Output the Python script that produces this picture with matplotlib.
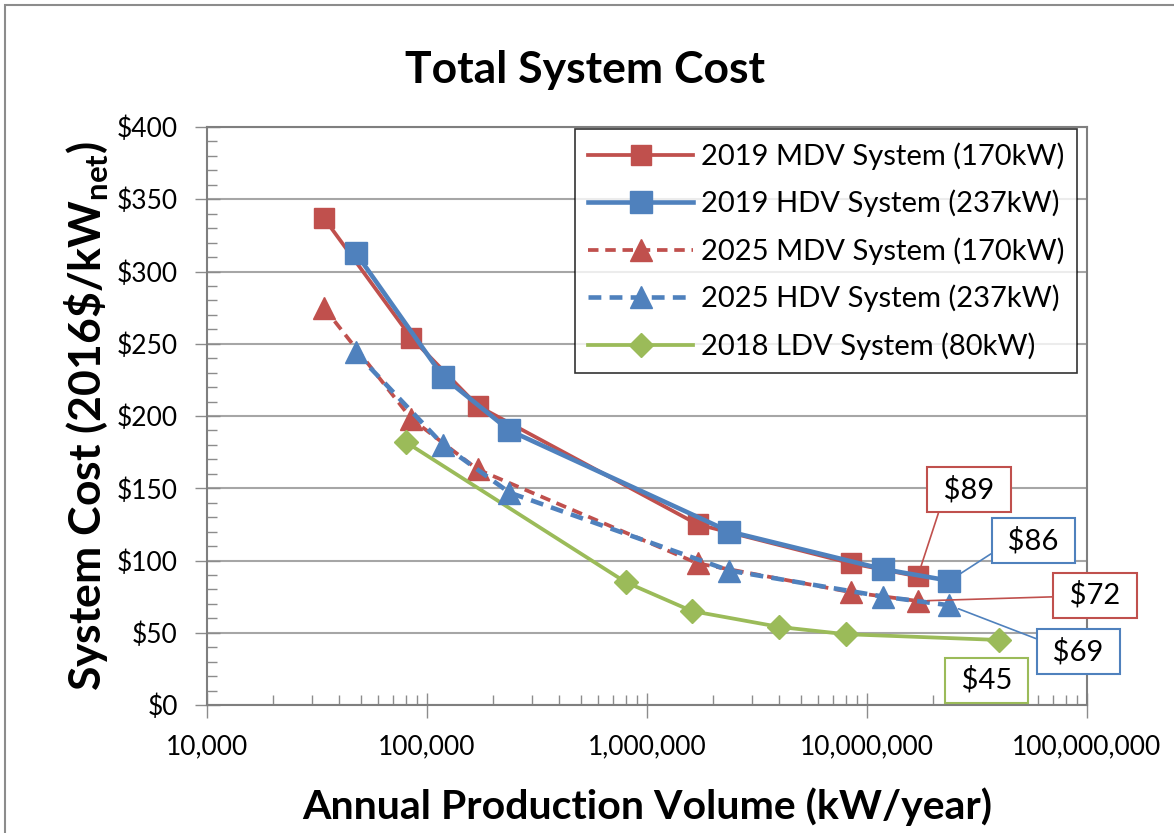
import numpy as np
import matplotlib
matplotlib.use("Agg")
import matplotlib.pyplot as plt
from matplotlib.ticker import LogLocator, MultipleLocator, FuncFormatter, NullFormatter
from matplotlib.patches import Rectangle

plt.rcParams['font.family'] = ['Lato', 'DejaVu Sans']
plt.rcParams['mathtext.fontset'] = 'custom'
plt.rcParams['mathtext.rm'] = 'Lato'
plt.rcParams['mathtext.bf'] = 'Lato:bold'

# data (kW/year, $/kW)
mdv19_x = [34000, 85000, 170000, 1700000, 8500000, 17000000]
mdv19_y = [337, 254, 207, 125, 98, 89]
hdv19_x = [47400, 118500, 237000, 2370000, 11850000, 23700000]
hdv19_y = [313, 227, 190, 120, 94, 86]
mdv25_x = [34000, 85000, 170000, 1700000, 8500000, 17000000]
mdv25_y = [275, 198, 163, 98, 78, 72]
hdv25_x = [47400, 118500, 237000, 2370000, 11850000, 23700000]
hdv25_y = [244, 180, 147, 93, 75, 69]
ldv18_x = [80000, 800000, 1600000, 4000000, 8000000, 40000000]
ldv18_y = [182, 85, 65, 54, 49, 45]

x_ticks = [1e4, 1e5, 1e6, 1e7, 1e8]
x_labels = ['10,000', '100,000', '1,000,000', '10,000,000', '100,000,000']

red = '#C0504D'
blue = '#4F81BD'
green = '#9BBB59'

fig = plt.figure(figsize=(11.74, 8.33), dpi=100)
ax = fig.add_axes([207/1174, 1-705/833, 880/1174, 578/833])

# outer chart frame
fig.patches.append(Rectangle((5/1174, -0.1), 1.2, 1-5/833+0.1, transform=fig.transFigure,
                             fill=False, edgecolor='#8c8c8c', linewidth=1.5))

lw = 2.7
ax.plot(mdv19_x, mdv19_y, color=red, lw=lw, marker='s', ms=15, label='2019 MDV System (170kW)', zorder=3)
ax.plot(hdv19_x, hdv19_y, color=blue, lw=lw+0.6, marker='s', ms=16, label='2019 HDV System (237kW)', zorder=4)
ax.plot(mdv25_x, mdv25_y, color=red, lw=lw, ls=(0, (2.8, 1.8)), marker='^', ms=16, label='2025 MDV System (170kW)', zorder=3)
ax.plot(hdv25_x, hdv25_y, color=blue, lw=lw+0.6, ls=(0, (2.8, 1.8)), marker='^', ms=16, label='2025 HDV System (237kW)', zorder=4)
ax.plot(ldv18_x, ldv18_y, color=green, lw=lw, marker='D', ms=12, label='2018 LDV System (80kW)', zorder=3)

ax.set_xscale('log')
ax.set_xlim(1e4, 1e8)
ax.set_ylim(0, 400)
ax.set_xticks(x_ticks)
ax.set_xticklabels(x_labels)
ax.xaxis.set_minor_locator(LogLocator(base=10, subs=np.arange(2, 10)))
ax.xaxis.set_minor_formatter(NullFormatter())
ax.yaxis.set_major_locator(MultipleLocator(50))
ax.yaxis.set_minor_locator(MultipleLocator(10))
ax.yaxis.set_major_formatter(FuncFormatter(lambda v, p: '$%d' % v))

ax.tick_params(axis='both', which='major', labelsize=19, direction='inout', length=18, width=1, color='#8c8c8c')
ax.tick_params(axis='both', which='minor', direction='in', length=7, width=1, color='#8c8c8c')
ax.tick_params(axis='x', which='major', pad=12)
ax.tick_params(axis='y', which='major', pad=12)
ax.grid(axis='y', which='major', color='#a6a6a6', linewidth=1.5)
ax.set_axisbelow(True)
for s in ax.spines.values():
    s.set_color('#7f7f7f')
    s.set_linewidth(1.5)

ax.set_title('Total System Cost', fontsize=32, fontweight='bold', pad=32, x=0.43)
ax.set_xlabel('Annual Production Volume (kW/year)', fontsize=29.5, fontweight='bold', labelpad=20)
ax.set_ylabel(r'System Cost (2016\$/kW$_{\mathbf{net}}$)', fontsize=32, fontweight='bold', labelpad=4)

leg = ax.legend(loc='upper right', bbox_to_anchor=(0.989, 0.996), fontsize=21, frameon=True,
                fancybox=False, edgecolor='black', handlelength=3.6, handletextpad=0.25,
                labelspacing=0.68, borderpad=0.45, borderaxespad=0)
leg.get_frame().set_linewidth(1.2)

# callouts
ann = [
    ('$89', mdv19_x[-1], mdv19_y[-1], (0.866, 0.372), red, (0.08, 0.0)),
    ('$86', hdv19_x[-1], hdv19_y[-1], (0.939, 0.284), blue, (0.0, 0.25)),
    ('$72', mdv25_x[-1], mdv25_y[-1], (1.009, 0.190), red, (0.0, 0.45)),
    ('$69', hdv25_x[-1], hdv25_y[-1], (0.990, 0.092), blue, (0.0, 0.85)),
    ('$45', ldv18_x[-1], ldv18_y[-1], (0.886, 0.043), green, None),
]
for txt, px, py, pos, col, rp in ann:
    kw = {}
    if rp is not None:
        kw['arrowprops'] = dict(arrowstyle='-', color=col, lw=1.2, shrinkA=0, shrinkB=7, relpos=rp)
    ax.annotate(' ' + txt + ' ', xy=(px, py), xycoords='data', xytext=pos, textcoords='axes fraction',
                ha='center', va='center', fontsize=21, annotation_clip=False, zorder=6,
                bbox=dict(boxstyle='square,pad=0.3', fc='white', ec=col, lw=1.5), **kw)

fig.savefig('out.png', dpi=100)
